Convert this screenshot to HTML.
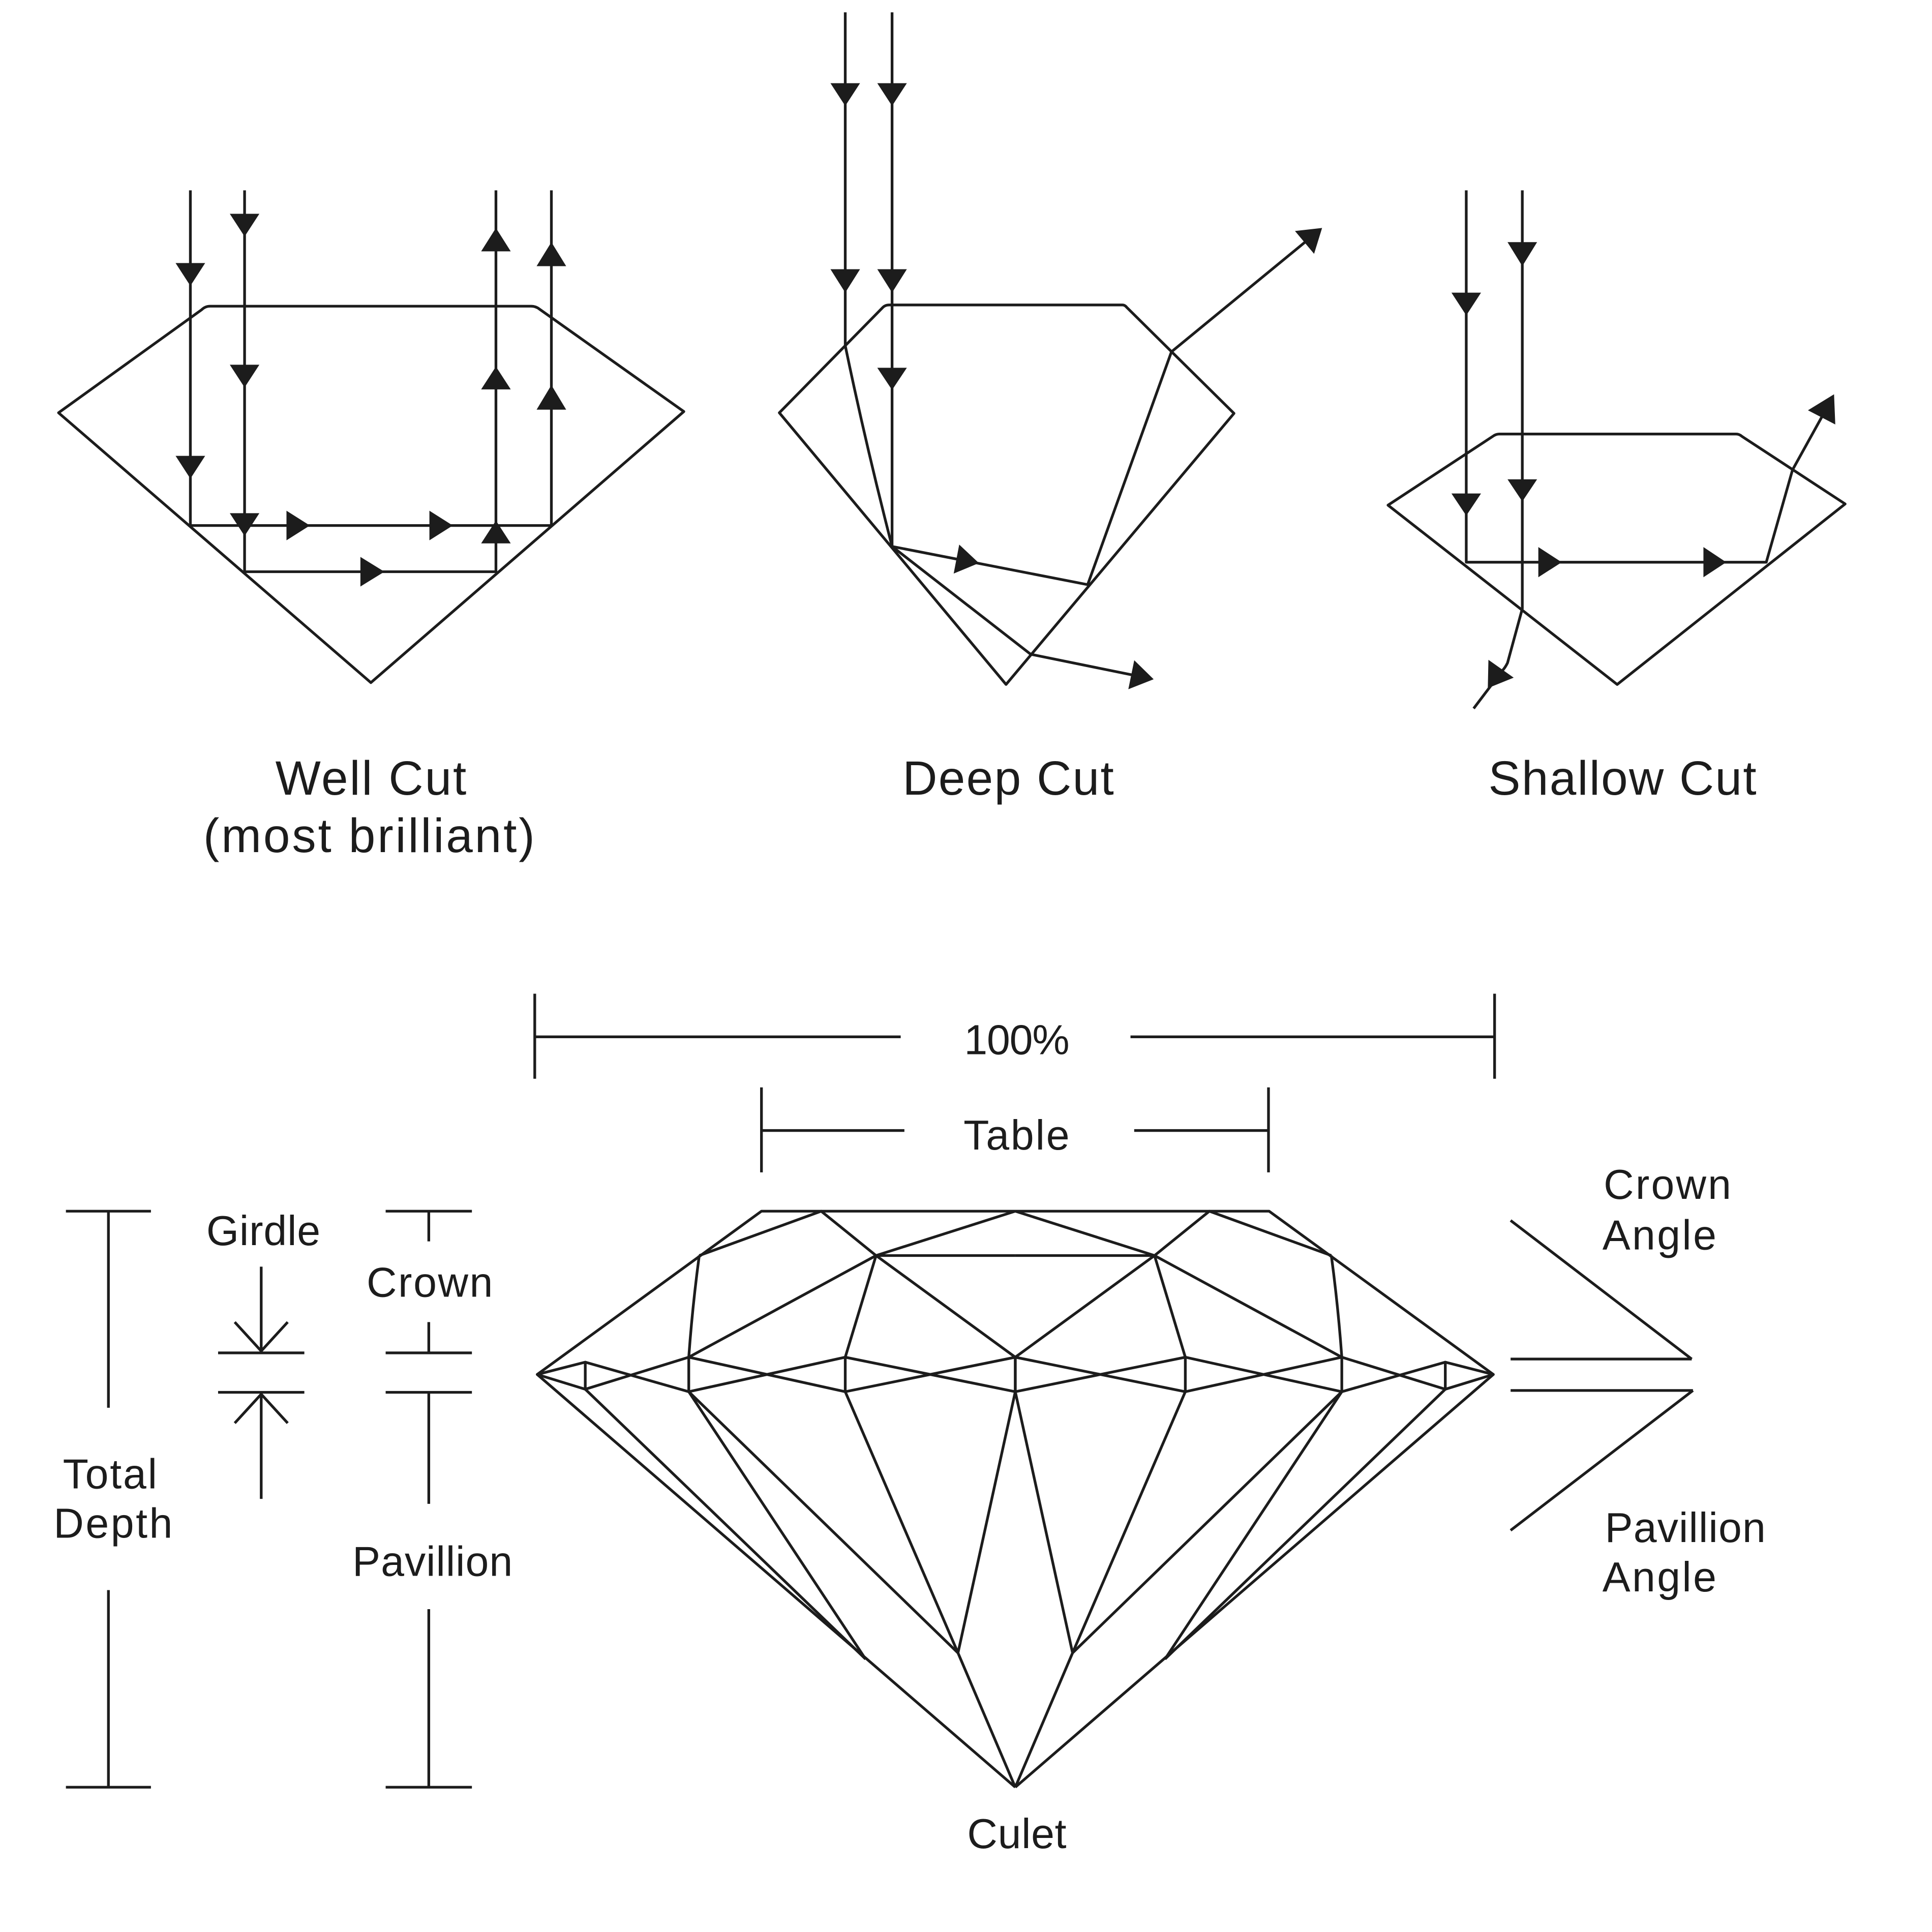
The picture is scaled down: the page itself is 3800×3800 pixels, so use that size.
<!DOCTYPE html>
<html>
<head>
<meta charset="utf-8">
<style>
  html, body { margin:0; padding:0; background:#ffffff; }
  body { width:3800px; height:3800px; overflow:hidden; }
  svg { display:block; }
  text { font-family:"Liberation Sans", sans-serif; fill:#1c1c1c; }
</style>
</head>
<body>
<svg width="3800" height="3800" viewBox="0 0 3136 3136" xmlns="http://www.w3.org/2000/svg">
  <rect x="0" y="0" width="3136" height="3136" fill="#ffffff"/>

  <g fill="none" stroke="#1c1c1c" stroke-width="4.4" stroke-linejoin="round" stroke-linecap="butt">
    <!-- ============ WELL CUT ============ -->
    <path d="M95,670 L327,503 Q333,497 341,497 L862,497 Q870,497 876,502 L1110,668 L602,1108 Z"/>
    <path d="M309,309 V853 H895 V309"/>
    <path d="M397,309 V928 H805 V309"/>

    <!-- ============ DEEP CUT ============ -->
    <path d="M1265,670 L1433,499 Q1437,495 1443,495 L1822,495 Q1826,495 1829,499 L2003,671 L1633,1111 Z"/>
    <path d="M1372,20 V561 Q1405,720 1448,887"/>
    <path d="M1448,20 V887"/>
    <path d="M1448,887 L1765.5,949 L1901.5,571 L2122,390"/>
    <path d="M1448,887 L1673,1062 L1845,1097"/>

    <!-- ============ SHALLOW CUT ============ -->
    <path d="M2253,820 L2425,707 Q2429,704.5 2434,704.5 L2818,704.5 Q2823,704.5 2827,708 L2995,818 L2625,1111 Z"/>
    <path d="M2380,309 V912.6 H2867 L2909.6,762.7 L2962,668"/>
    <path d="M2471,309 V988 L2447,1076 Q2443,1084 2439,1088 L2392,1150"/>

    <!-- ============ DIMENSIONS ============ -->
    <path d="M868,1613 V1751 M868,1683 H1462 M1835,1683 H2426 M2426,1613 V1751"/>
    <path d="M1236,1765 V1903 M1236,1835 H1468 M1841,1835 H2059 M2059,1765 V1903"/>

    <!-- Total depth -->
    <path d="M107,1966 H245 M176,1966 V2285 M176,2581 V2901 M107,2901 H245"/>
    <!-- Girdle -->
    <path d="M424,2056 V2193 M381,2146 L424,2193 L467,2146 M354,2196 H494 M354,2260 H494 M381,2310 L424,2263 L467,2310 M424,2263 V2433"/>
    <!-- Crown / Pavillion -->
    <path d="M626,1966 H766 M696,1966 V2015 M696,2146 V2196 M626,2196 H766 M626,2260 H766 M696,2260 V2441 M696,2612 V2901 M626,2901 H766"/>

    <!-- Angles -->
    <path d="M2452,1981 L2746,2206 M2452,2206 H2746 M2452,2257 H2748 M2748,2257 L2452,2484"/>

    <!-- ============ BIG DIAMOND (left half, mirrored) ============ -->
    <g id="halfdiamond">
      <path d="M872,2231 L1236,1966 L1648,1966"/>
      <path d="M872,2231 L1648,2901"/>
      <path d="M1422,2038 L1648,2038"/>
      <path d="M1135,2038 L1333,1966 L1422,2038 L1648,1966"/>
      <path d="M1422,2038 L1648,2203"/>
      <path d="M1422,2038 L1118,2203"/>
      <path d="M1422,2038 L1372,2203"/>
      <path d="M1135,2038 Q1124,2120 1118,2203"/>
      <path d="M872,2231 L950,2211 L950,2255 Z"/>
      <path d="M950,2211 L1118,2259 M950,2255 L1118,2203 M1118,2203 L1118,2259"/>
      <path d="M1118,2203 L1372,2259 M1118,2259 L1372,2203 M1372,2203 L1372,2259"/>
      <path d="M1372,2203 L1648,2259 M1372,2259 L1648,2203 M1648,2203 L1648,2259"/>
      <path d="M950,2255 L1405,2693"/>
      <path d="M1118,2259 L1405,2693"/>
      <path d="M1118,2259 L1555,2683"/>
      <path d="M1372,2259 L1555,2683"/>
      <path d="M1648,2259 L1555,2683 L1648,2901"/>
    </g>
    <use href="#halfdiamond" transform="translate(3296,0) scale(-1,1)"/>
  </g>

  <!-- ============ ARROWHEADS ============ -->
  <g fill="#1c1c1c" stroke="none">
    <!-- Well cut -->
    <polygon points="285,427 333,427 309,464"/>
    <polygon points="285,740 333,740 309,777"/>
    <polygon points="373,347 421,347 397,384"/>
    <polygon points="373,592 421,592 397,629"/>
    <polygon points="373,833 421,833 397,870"/>
    <polygon points="465,829 465,877 503,853"/>
    <polygon points="697,829 697,877 735,853"/>
    <polygon points="585,904 585,952 624,928"/>
    <polygon points="781,408 829,408 805,370"/>
    <polygon points="781,632 829,632 805,595"/>
    <polygon points="781,882 829,882 805,845"/>
    <polygon points="871,432 919,432 895,393"/>
    <polygon points="871,665 919,665 895,625"/>

    <!-- Deep cut -->
    <polygon points="1348,135 1396,135 1372,172"/>
    <polygon points="1348,437 1396,437 1372,475"/>
    <polygon points="1424,135 1472,135 1448,172"/>
    <polygon points="1424,437 1472,437 1448,475"/>
    <polygon points="1424,597 1472,597 1448,633"/>
    <polygon points="1548,931 1557,884 1589,914"/>
    <polygon points="2102,375 2133,412 2146,370"/>
    <polygon points="1831.5,1118.7 1841.1,1071.7 1872.6,1102.6"/>

    <!-- Shallow cut -->
    <polygon points="2356,475 2404,475 2380,512"/>
    <polygon points="2356,801 2404,801 2380,837"/>
    <polygon points="2447,393 2495,393 2471,432"/>
    <polygon points="2447,778 2495,778 2471,814"/>
    <polygon points="2497,888 2497,937 2535,912.6"/>
    <polygon points="2765,888 2765,937 2802,912.6"/>
    <polygon points="2934.6,666 2977,640 2979,689"/>
    <polygon points="2416,1071 2457,1100 2415,1117"/>
  </g>

  <!-- ============ LABELS ============ -->
  <g font-size="78">
    <text x="447" y="1290" textLength="310" lengthAdjust="spacing">Well Cut</text>
    <text x="330" y="1383" textLength="538" lengthAdjust="spacing">(most brilliant)</text>
    <text x="1465" y="1290" textLength="343" lengthAdjust="spacing">Deep Cut</text>
    <text x="2416" y="1290" textLength="435" lengthAdjust="spacing">Shallow Cut</text>
  </g>
  <g font-size="68">
    <text x="1565" y="1711" textLength="171" lengthAdjust="spacing">100%</text>
    <text x="1564" y="1866" textLength="172" lengthAdjust="spacing">Table</text>
    <text x="1570" y="3000" textLength="161" lengthAdjust="spacing">Culet</text>
    <text x="335" y="2021" textLength="185" lengthAdjust="spacing">Girdle</text>
    <text x="595" y="2105" textLength="205" lengthAdjust="spacing">Crown</text>
    <text x="102" y="2416" textLength="153" lengthAdjust="spacing">Total</text>
    <text x="87" y="2496" textLength="193" lengthAdjust="spacing">Depth</text>
    <text x="572" y="2558" textLength="260" lengthAdjust="spacing">Pavillion</text>
    <text x="2603" y="1946" textLength="207" lengthAdjust="spacing">Crown</text>
    <text x="2601" y="2028" textLength="185" lengthAdjust="spacing">Angle</text>
    <text x="2605" y="2503" textLength="261" lengthAdjust="spacing">Pavillion</text>
    <text x="2601" y="2583" textLength="185" lengthAdjust="spacing">Angle</text>
  </g>
</svg>
</body>
</html>
